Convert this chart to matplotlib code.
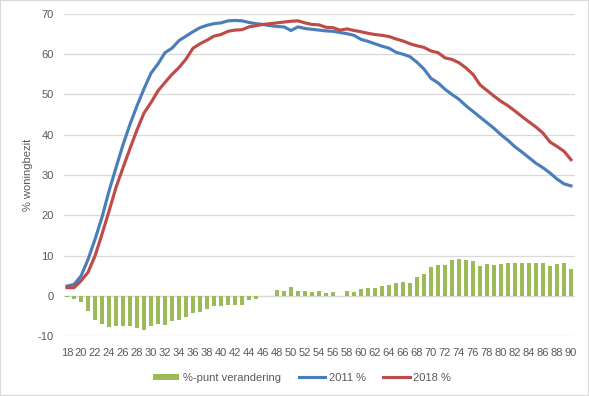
import matplotlib.pyplot as plt
import numpy as np
from matplotlib.patches import Rectangle

plt.rcParams['font.family'] = ['Liberation Sans', 'DejaVu Sans']
plt.rcParams['axes.unicode_minus'] = False

# leeftijden 18 t/m 90
leeftijd = list(range(18, 91))

# % woningbezit 2011
bezit_2011 = [2.4, 2.8, 4.9, 9.0, 14.0, 19.5, 26.0, 31.8, 37.5, 42.6,
              47.2, 51.4, 55.3, 57.6, 60.4, 61.5, 63.4, 64.5, 65.6, 66.6,
              67.2, 67.6, 67.8, 68.3, 68.4, 68.3, 67.9, 67.6, 67.4, 67.1,
              66.9, 66.8, 65.9, 66.8, 66.4, 66.2, 66.0, 65.8, 65.7, 65.4,
              65.1, 64.7, 63.7, 63.2, 62.6, 62.0, 61.5, 60.5, 60.0, 59.4,
              58.0, 56.3, 54.0, 52.9, 51.3, 50.0, 48.8, 47.2, 45.8, 44.4,
              43.0, 41.6, 40.0, 38.6, 37.0, 35.7, 34.3, 32.9, 31.8, 30.5,
              29.0, 27.8, 27.3]

# % woningbezit 2018
bezit_2018 = [2.0, 2.0, 3.7, 5.8, 9.9, 15.3, 21.0, 26.9, 31.8, 36.6,
              41.2, 45.4, 48.0, 50.9, 53.0, 55.0, 56.7, 58.8, 61.5, 62.6,
              63.5, 64.5, 64.9, 65.7, 66.0, 66.1, 66.8, 67.1, 67.4, 67.6,
              67.8, 68.0, 68.2, 68.3, 67.8, 67.4, 67.3, 66.7, 66.6, 66.0,
              66.3, 65.9, 65.6, 65.2, 64.9, 64.7, 64.4, 63.8, 63.3, 62.6,
              62.1, 61.7, 60.8, 60.4, 59.1, 58.7, 57.9, 56.6, 55.0, 52.4,
              51.0, 49.6, 48.3, 47.2, 45.9, 44.5, 43.2, 41.9, 40.4, 38.2,
              37.1, 35.9, 33.8]

# %-punt verandering
verandering = [-0.2, -0.7, -1.5, -3.7, -6.0, -6.9, -7.7, -7.5, -7.5, -7.5,
               -8.0, -8.5, -7.6, -6.9, -7.2, -6.3, -6.0, -5.2, -4.2, -4.0,
               -3.4, -2.6, -2.6, -2.2, -2.2, -2.2, -1.1, -0.7, 0.0, 0.0,
               1.4, 1.1, 2.2, 1.2, 1.2, 0.9, 1.2, 0.7, 0.9, 0.0,
               1.2, 0.9, 1.7, 1.9, 1.9, 2.4, 2.7, 3.2, 3.4, 3.2,
               4.6, 5.4, 7.1, 7.6, 7.6, 8.9, 9.1, 8.9, 8.6, 7.4,
               7.9, 7.6, 7.9, 8.1, 8.1, 8.1, 8.1, 8.1, 8.1, 7.4,
               7.9, 8.1, 6.6]

tekst = '#595959'
raster = '#d9d9d9'
fs = 8

fig = plt.figure(figsize=(5.89, 3.96), dpi=100)
ax = fig.add_axes([63.5 / 589, 1 - 336 / 396, 511 / 589, 322 / 396])

x = np.arange(len(leeftijd))
staaf = ax.bar(x, verandering, width=0.55, color='#9bbb59', label='%-punt verandering', zorder=2)
lijn1, = ax.plot(x, bezit_2011, color='#4a7ebb', lw=2.25, label='2011 %', zorder=3)
lijn2, = ax.plot(x, bezit_2018, color='#be4b48', lw=2.25, label='2018 %', zorder=3)

ax.set_xlim(-0.5, len(leeftijd) - 0.5)
ax.set_ylim(-10, 70)
ax.set_yticks(range(-10, 71, 10))
ax.set_xticks(x[::2])
ax.set_xticklabels([str(a) for a in leeftijd[::2]])
ax.grid(axis='y', color=raster, lw=0.9, zorder=0)
ax.axhline(0, color=raster, lw=0.9, zorder=1)
for s in ax.spines.values():
    s.set_visible(False)
ax.tick_params(axis='both', length=0, colors=tekst, labelsize=fs)
ax.tick_params(axis='x', pad=9)
ax.tick_params(axis='y', pad=7)
ax.set_ylabel('% woningbezit', color=tekst, fontsize=fs, labelpad=3)

fig.legend([staaf, lijn1, lijn2], ['%-punt verandering', '2011 %', '2018 %'],
           loc='center', bbox_to_anchor=(302 / 589, 1 - 378 / 396), ncol=3,
           frameon=False, fontsize=fs, labelcolor=tekst, handlelength=2.4,
           handleheight=0.5, handletextpad=0.3, columnspacing=1.6)

fig.patches.append(Rectangle((0, 0), 1, 1, transform=fig.transFigure,
                             fill=False, edgecolor=raster, lw=1.5))

fig.savefig('out.png', dpi=100)
